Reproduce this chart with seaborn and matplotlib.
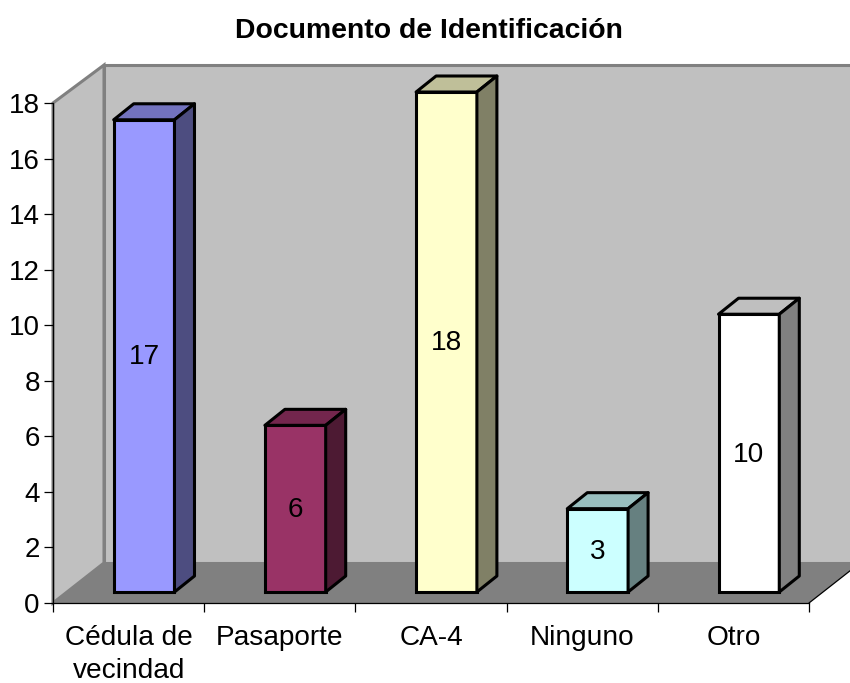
import seaborn as sns
import matplotlib
matplotlib.use('Agg')
import matplotlib.pyplot as plt
import pandas as pd
from matplotlib.patches import Polygon
from matplotlib.transforms import IdentityTransform

categories = ['Cédula de\nvecindad', 'Pasaporte', 'CA-4', 'Ninguno', 'Otro']
values = [17, 6, 18, 3, 10]
colors = ['#9999FF', '#993366', '#FFFFCC', '#CCFFFF', '#FFFFFF']
y_ticks = list(range(0, 20, 2))

W, H = 850, 683
sns.set_style('white')
plt.rcParams['font.family'] = ['Liberation Sans', 'DejaVu Sans']
plt.rcParams['text.color'] = 'black'
plt.rcParams['xtick.labelcolor'] = 'black'
plt.rcParams['ytick.labelcolor'] = 'black'


def axes_box(left, right, top, bottom):
    return [left / W, (H - bottom) / H, (right - left) / W, (bottom - top) / H]


def shade(hex_color, f):
    r, g, b = matplotlib.colors.to_rgb(hex_color)
    return (r * f, g * f, b * f)


fig = plt.figure(figsize=(W / 100, H / 100), dpi=100, facecolor='white')

# front axis, carries ticks and labels
ax = fig.add_axes(axes_box(53, 809, 103, 603))
ax.patch.set_alpha(0)
# bars sit a bit behind the front axis
ax_bars = fig.add_axes(axes_box(53 + 15.5, 809 + 15.5, 103 - 11, 603 - 11))
ax_bars.patch.set_alpha(0)

df = pd.DataFrame({'doc': categories, 'n': values})
sns.barplot(data=df, x='doc', y='n', hue='doc', palette=colors, legend=False,
            width=0.402, saturation=1, edgecolor='black', linewidth=2.2,
            ax=ax_bars)
ax_bars.set_ylim(0, 18)
ax_bars.set_xlim(-0.5, 4.5)
ax_bars.axis('off')
for c in ax_bars.containers:
    for p in c:
        p.set_clip_on(False)
    ax_bars.bar_label(c, label_type='center', fontsize=20.2, color='black', padding=-1)

# top and side faces of each bar, in pixels
dx, dy = 20, 16
for cont, col in zip(ax_bars.containers, colors):
    for p in cont:
        x0, y0 = ax_bars.transData.transform((p.get_x(), 0))
        x1, y1 = ax_bars.transData.transform((p.get_x() + p.get_width(), p.get_height()))
        top = [(x0, y1), (x1, y1), (x1 + dx, y1 + dy), (x0 + dx, y1 + dy)]
        side = [(x1, y0), (x1 + dx, y0 + dy), (x1 + dx, y1 + dy), (x1, y1)]
        for pts, f in ((top, 0.75), (side, 0.5)):
            ax_bars.add_patch(Polygon(pts, closed=True, facecolor=shade(col, f),
                                      edgecolor='black', linewidth=2.2, joinstyle='round',
                                      transform=IdentityTransform(), clip_on=False))

# walls and floor
x_l, x_r = 53, 809
y_t, y_b = H - 103, H - 603
bx, by = 51, 40
wall = '#C0C0C0'
grey = '#808080'
ax.add_patch(Polygon([(x_l + bx, y_b + by), (x_r + bx, y_b + by), (x_r + bx, y_t + by - 2), (x_l + bx, y_t + by - 2)],
                     facecolor=wall, edgecolor=grey, linewidth=2.2,
                     transform=IdentityTransform(), clip_on=False, zorder=0))
ax.add_patch(Polygon([(x_l, y_b), (x_l + bx, y_b + by), (x_l + bx, y_t + by - 2), (x_l, y_t)],
                     facecolor=wall, edgecolor=grey, linewidth=2.2,
                     transform=IdentityTransform(), clip_on=False, zorder=0))
ax.add_patch(Polygon([(x_l, y_b), (x_r, y_b), (x_r + bx, y_b + by), (x_l + bx, y_b + by)],
                     facecolor=grey, edgecolor='none',
                     transform=IdentityTransform(), clip_on=False, zorder=0.5))
ax.plot([x_r, x_r + bx], [y_b, y_b + by], color='black', lw=0.9,
        transform=IdentityTransform(), clip_on=False, zorder=0.6)

ax.set_xlim(0, 5)
ax.set_ylim(0, 18)
ax.set_yticks(y_ticks)
ax.set_xticks(range(6))
ax.set_xticklabels([])
ax.set_xticks([i + 0.5 for i in range(5)], minor=True)
ax.set_xticklabels(categories, minor=True, fontsize=20.2, linespacing=1.33)
ax.tick_params(axis='x', which='major', length=6.5, width=0.9, color='black', bottom=True)
ax.tick_params(axis='x', which='minor', length=0, pad=16)
ax.tick_params(axis='y', length=6.5, width=0.9, color='black', left=True, labelsize=20, pad=3)
sns.despine(ax=ax, top=True, right=True)
for s in ('left', 'bottom'):
    ax.spines[s].set_color('black')
    ax.spines[s].set_linewidth(0.9)

fig.text(429 / W, (H - 31.5) / H, 'Documento de Identificación', ha='center', va='center',
         fontsize=20.4, fontweight='bold', color='black')

fig.savefig('out.png', dpi=100)
